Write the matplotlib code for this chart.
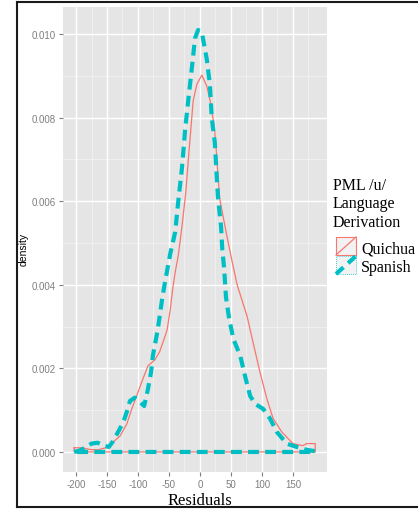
import numpy as np
import matplotlib.pyplot as plt
from matplotlib.patches import Rectangle
from matplotlib.lines import Line2D

# density estimates of the residuals, per language
quichua_x = [-203, -190, -178, -165, -152, -140, -129, -118, -110, -100, -92, -84, -73, -65,
             -58, -53, -48, -44, -40, -35, -29, -23, -16, -11, -5, 3, 11, 18, 24, 32, 43, 52,
             60, 76, 86, 97, 108, 118, 132, 150, 166, 172, 186]
quichua_y = [0.0001, 0.0001, 0.00006, 0.00005, 0.0001, 0.00024, 0.00038, 0.00067, 0.00103,
             0.00143, 0.00175, 0.00206, 0.0022, 0.0024, 0.0027, 0.00292, 0.0034, 0.0039,
             0.0043, 0.0047, 0.0054, 0.0062, 0.0075, 0.0084, 0.0088, 0.00902, 0.00876, 0.0083,
             0.00766, 0.00605, 0.0052, 0.00455, 0.004, 0.00325, 0.0026, 0.0019, 0.00127,
             0.0008, 0.00048, 0.0002, 0.00015, 0.0002, 0.0002]

spanish_x = [-203, -195, -185, -175, -165, -155, -147, -140, -132, -124, -118, -113, -105, -97,
             -90, -84, -79, -76, -68, -61, -56, -48, -40, -35, -29, -24, -19, -13, -8, -3, 3,
             11, 16, 19, 24, 29, 34, 36, 39, 42, 47, 54, 65, 73, 81, 89, 102, 113, 124, 140,
             156, 172, 186]
spanish_y = [0.0, 0.00003, 0.0001, 0.0002, 0.00022, 0.00015, 0.00012, 0.00026, 0.00048, 0.0007,
             0.00096, 0.00122, 0.0013, 0.0012, 0.0011, 0.0015, 0.0019, 0.0023, 0.00294, 0.00366,
             0.0041, 0.00474, 0.00526, 0.006, 0.0068, 0.0077, 0.0084, 0.0092, 0.0099, 0.0101,
             0.01005, 0.0094, 0.0088, 0.008, 0.0074, 0.0061, 0.0054, 0.00486, 0.0044, 0.0037,
             0.0032, 0.0027, 0.0023, 0.0018, 0.00134, 0.00115, 0.00103, 0.0008, 0.00048, 0.0002,
             0.00012, 0.00005, 0.00002]

x_ticks = [-200, -150, -100, -50, 0, 50, 100, 150]
y_ticks = [0.000, 0.002, 0.004, 0.006, 0.008, 0.010]
groups = ['Quichua', 'Spanish']

red = '#F8766D'
cyan = '#00BFC4'
W, H = 418, 510


def fx(px):
    return px / W


def fy(py):
    return 1 - py / H


def closed(x, y):
    # ggplot-style density outline: curve plus the baseline back to the start
    x = np.asarray(x)
    y = np.asarray(y)
    return np.r_[x, x[-1], x[0], x[0]], np.r_[y, 0, 0, y[0]]


fig = plt.figure(figsize=(W / 100, H / 100), dpi=100)
ax = fig.add_axes([fx(63), fy(473), fx(327) - fx(63), fy(8) - fy(473)])
ax.set_facecolor('#E5E5E5')
for s in ax.spines.values():
    s.set_visible(False)

ax.set_xlim(-221, 205)
ax.set_ylim(-0.00048, 0.01065)

# grid
for v in np.arange(-175, 200, 50):
    ax.axvline(v, color='#F2F2F2', lw=0.6, zorder=0)
for v in np.arange(0.001, 0.0105, 0.002):
    ax.axhline(v, color='#F2F2F2', lw=0.6, zorder=0)
for v in x_ticks:
    ax.axvline(v, color='white', lw=1.0, zorder=0.5)
for v in y_ticks:
    ax.axhline(v, color='white', lw=1.0, zorder=0.5)

qx, qy = closed(quichua_x, quichua_y)
ax.plot(qx, qy, color=red, lw=0.9, zorder=2)
sx, sy = closed(spanish_x, spanish_y)
ax.plot(sx, sy, color=cyan, lw=3.0, dashes=(2.6, 1.5), solid_capstyle='butt',
        dash_capstyle='butt', zorder=3)

ax.set_xticks(x_ticks)
ax.set_xticklabels([str(v) for v in x_ticks])
ax.set_yticks(y_ticks)
ax.set_yticklabels(['%.3f' % v for v in y_ticks])
ax.tick_params(colors='#7F7F7F', labelcolor='#7F7F7F', length=3, width=0.8, pad=2,
               labelsize=7)
for lab in ax.get_xticklabels() + ax.get_yticklabels():
    lab.set_fontfamily('Liberation Sans')

# axis titles
fig.text(fx(24), fy(249), 'density', rotation=90, ha='center', va='center',
         fontsize=7.5, family='Liberation Sans')
fig.text(fx(200), fy(505), 'Residuals', ha='center', va='baseline',
         fontsize=12, family='Liberation Serif')

# legend
for txt, py in zip(['PML /u/', 'Language', 'Derivation'], [190, 208, 227]):
    fig.text(fx(333), fy(py), txt, ha='left', va='baseline', fontsize=11.5,
             family='Liberation Serif')

key_top = [238, 257]
key_h = 18
for i, name in enumerate(groups):
    top = key_top[i]
    x0, x1 = fx(336), fx(356)
    y0, y1 = fy(top + key_h), fy(top)
    if name == 'Quichua':
        fig.patches.append(Rectangle((x0, y0), x1 - x0, y1 - y0, transform=fig.transFigure,
                                     facecolor='#F2F2F2', edgecolor=red, lw=0.8))
        fig.lines.append(Line2D([x0, x1], [y0, y1], transform=fig.transFigure,
                                color=red, lw=0.9))
    else:
        fig.patches.append(Rectangle((x0, y0), x1 - x0, y1 - y0, transform=fig.transFigure,
                                     facecolor='#F2F2F2', edgecolor=cyan, lw=0.6,
                                     linestyle=(0, (1, 1.5))))
        fig.lines.append(Line2D([x0, x1], [y0, y1], transform=fig.transFigure,
                                color=cyan, lw=3.0, dashes=(2.4, 1.5),
                                dash_capstyle='butt'))
    fig.text(fx(361), fy(top + 15), name, ha='left', va='baseline', fontsize=11.5,
             family='Liberation Serif')

# outer frame: left, top and bottom edges only
frame = dict(transform=fig.transFigure, color='#1A1A1A', lw=1.5)
fig.lines.append(Line2D([fx(16.5), fx(16.5)], [fy(2.5), fy(508)], **frame))
fig.lines.append(Line2D([fx(16.5), 1], [fy(2.5), fy(2.5)], **frame))
fig.lines.append(Line2D([fx(16.5), 1], [fy(508), fy(508)], **frame))

fig.savefig('out.png', dpi=100)
